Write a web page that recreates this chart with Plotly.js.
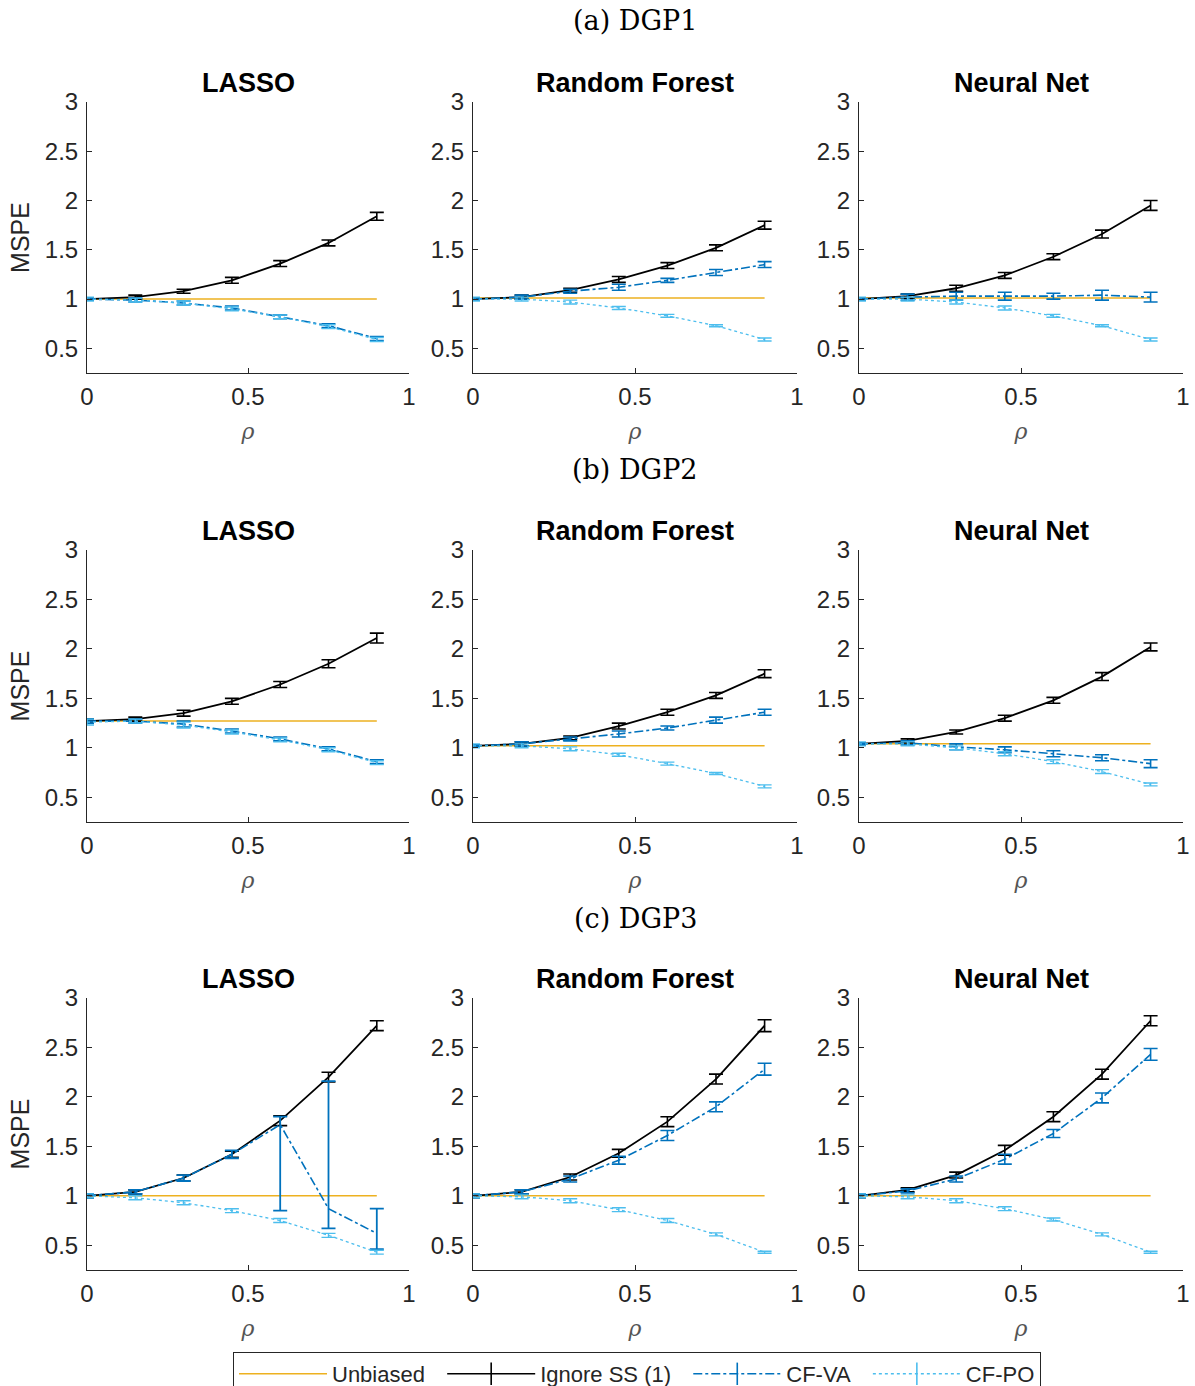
<!DOCTYPE html>
<html>
<head>
<meta charset="utf-8">
<script src="https://cdn.plot.ly/plotly-3.0.1.min.js"></script>
<style>html,body{margin:0;padding:0;background:#fff;width:1195px;height:1386px;overflow:hidden;}#chart{width:1195px;height:1410px;}</style>
</head>
<body>
<div id="chart"></div>
<script>
// ---------- DATA ----------
const rho = [0, 0.15, 0.3, 0.45, 0.6, 0.75, 0.9];
const seriesNames = ['Unbiased', 'Ignore SS (1)', 'CF-VA', 'CF-PO'];
const methodNames = ['LASSO', 'Random Forest', 'Neural Net'];
const dgpTitles = ['(a) DGP1', '(b) DGP2', '(c) DGP3'];
const yTickVals = [0.5, 1, 1.5, 2, 2.5, 3];
const yTickText = ['0.5', '1', '1.5', '2', '2.5', '3'];
const xTickVals = [0, 0.5, 1];
const xTickText = ['0', '0.5', '1'];

// DGP1 - LASSO
const d1LassoUnb = [1.00, 1.00, 1.00, 1.00, 1.00, 1.00, 1.00];
const d1LassoIgn = [1.00, 1.02, 1.08, 1.19, 1.36, 1.57, 1.84];
const d1LassoIgnErr = [0.01, 0.02, 0.02, 0.03, 0.03, 0.03, 0.04];
const d1LassoVA = [1.00, 0.99, 0.96, 0.91, 0.82, 0.73, 0.60];
const d1LassoVAErr = [0.01, 0.02, 0.02, 0.02, 0.02, 0.02, 0.02];
const d1LassoPO = [1.00, 0.99, 0.96, 0.90, 0.82, 0.72, 0.59];
const d1LassoPOErr = [0.02, 0.02, 0.02, 0.02, 0.02, 0.02, 0.02];
// DGP1 - Random Forest
const d1RFUnb = [1.01, 1.01, 1.01, 1.01, 1.01, 1.01, 1.01];
const d1RFIgn = [1.00, 1.02, 1.09, 1.20, 1.34, 1.52, 1.75];
const d1RFIgnErr = [0.01, 0.02, 0.02, 0.03, 0.03, 0.03, 0.04];
const d1RFVA = [1.00, 1.02, 1.08, 1.12, 1.19, 1.27, 1.35];
const d1RFVAErr = [0.01, 0.02, 0.02, 0.03, 0.02, 0.03, 0.03];
const d1RFPO = [1.00, 1.00, 0.97, 0.91, 0.83, 0.73, 0.59];
const d1RFPOErr = [0.02, 0.02, 0.02, 0.015, 0.015, 0.01, 0.015];
// DGP1 - Neural Net
const d1NNUnb = [1.01, 1.01, 1.01, 1.01, 1.01, 1.01, 1.01];
const d1NNIgn = [1.00, 1.03, 1.11, 1.24, 1.43, 1.66, 1.95];
const d1NNIgnErr = [0.01, 0.02, 0.03, 0.03, 0.03, 0.04, 0.05];
const d1NNVA = [1.00, 1.02, 1.03, 1.03, 1.03, 1.04, 1.02];
const d1NNVAErr = [0.01, 0.03, 0.04, 0.04, 0.03, 0.05, 0.05];
const d1NNPO = [1.00, 1.00, 0.97, 0.91, 0.83, 0.73, 0.59];
const d1NNPOErr = [0.02, 0.02, 0.02, 0.02, 0.015, 0.01, 0.015];

// DGP2 - LASSO
const d2LassoUnb = [1.27, 1.27, 1.27, 1.27, 1.27, 1.27, 1.27];
const d2LassoIgn = [1.27, 1.29, 1.35, 1.47, 1.64, 1.85, 2.11];
const d2LassoIgnErr = [0.02, 0.02, 0.03, 0.03, 0.03, 0.04, 0.05];
const d2LassoVA = [1.27, 1.27, 1.24, 1.17, 1.09, 0.99, 0.86];
const d2LassoVAErr = [0.02, 0.02, 0.03, 0.02, 0.02, 0.02, 0.02];
const d2LassoPO = [1.26, 1.27, 1.23, 1.16, 1.08, 0.98, 0.85];
const d2LassoPOErr = [0.03, 0.02, 0.03, 0.02, 0.02, 0.02, 0.02];
// DGP2 - Random Forest
const d2RFUnb = [1.02, 1.02, 1.02, 1.02, 1.02, 1.02, 1.02];
const d2RFIgn = [1.02, 1.04, 1.10, 1.22, 1.36, 1.53, 1.75];
const d2RFIgnErr = [0.01, 0.02, 0.02, 0.03, 0.03, 0.03, 0.04];
const d2RFVA = [1.02, 1.04, 1.09, 1.14, 1.20, 1.28, 1.36];
const d2RFVAErr = [0.01, 0.02, 0.02, 0.03, 0.02, 0.03, 0.03];
const d2RFPO = [1.02, 1.02, 0.99, 0.93, 0.84, 0.74, 0.61];
const d2RFPOErr = [0.02, 0.02, 0.02, 0.015, 0.015, 0.01, 0.015];
// DGP2 - Neural Net
const d2NNUnb = [1.04, 1.04, 1.04, 1.04, 1.04, 1.04, 1.04];
const d2NNIgn = [1.04, 1.07, 1.16, 1.30, 1.48, 1.72, 2.02];
const d2NNIgnErr = [0.01, 0.02, 0.02, 0.03, 0.03, 0.04, 0.04];
const d2NNVA = [1.04, 1.05, 1.01, 0.98, 0.94, 0.90, 0.84];
const d2NNVAErr = [0.01, 0.02, 0.03, 0.03, 0.03, 0.03, 0.04];
const d2NNPO = [1.04, 1.04, 1.00, 0.94, 0.86, 0.76, 0.63];
const d2NNPOErr = [0.02, 0.02, 0.02, 0.02, 0.02, 0.02, 0.015];

// DGP3 - LASSO
const d3LassoUnb = [1.00, 1.00, 1.00, 1.00, 1.00, 1.00, 1.00];
const d3LassoIgn = [1.00, 1.04, 1.18, 1.42, 1.76, 2.20, 2.72];
const d3LassoIgnErr = [0.02, 0.02, 0.03, 0.03, 0.05, 0.05, 0.05];
const d3LassoVA = [1.00, 1.04, 1.18, 1.42, 1.72, 0.87, 0.62];
const d3LassoVAErrPlus = [0.02, 0.02, 0.03, 0.04, 0.08, 1.29, 0.25];
const d3LassoVAErrMinus = [0.02, 0.02, 0.03, 0.04, 0.87, 0.20, 0.16];
const d3LassoPO = [1.00, 0.98, 0.93, 0.85, 0.75, 0.60, 0.43];
const d3LassoPOErr = [0.02, 0.02, 0.02, 0.02, 0.02, 0.02, 0.02];
// DGP3 - Random Forest
const d3RFUnb = [1.00, 1.00, 1.00, 1.00, 1.00, 1.00, 1.00];
const d3RFIgn = [1.00, 1.04, 1.19, 1.43, 1.75, 2.18, 2.72];
const d3RFIgnErr = [0.02, 0.02, 0.03, 0.04, 0.05, 0.05, 0.06];
const d3RFVA = [1.00, 1.04, 1.17, 1.36, 1.61, 1.90, 2.28];
const d3RFVAErr = [0.02, 0.02, 0.03, 0.04, 0.05, 0.05, 0.06];
const d3RFPO = [1.00, 0.99, 0.95, 0.86, 0.75, 0.61, 0.43];
const d3RFPOErr = [0.02, 0.02, 0.02, 0.02, 0.02, 0.015, 0.01];
// DGP3 - Neural Net
const d3NNUnb = [1.00, 1.00, 1.00, 1.00, 1.00, 1.00, 1.00];
const d3NNIgn = [1.00, 1.06, 1.21, 1.46, 1.80, 2.23, 2.77];
const d3NNIgnErr = [0.02, 0.02, 0.03, 0.05, 0.05, 0.05, 0.05];
const d3NNVA = [1.00, 1.05, 1.17, 1.37, 1.63, 1.99, 2.43];
const d3NNVAErr = [0.02, 0.02, 0.03, 0.05, 0.04, 0.05, 0.06];
const d3NNPO = [1.00, 0.99, 0.95, 0.87, 0.76, 0.61, 0.43];
const d3NNPOErr = [0.02, 0.02, 0.02, 0.02, 0.015, 0.015, 0.01];

// ---------- PANELS ----------
const panels = [
  {unb: d1LassoUnb, ign: d1LassoIgn, ignE: d1LassoIgnErr, va: d1LassoVA, vaE: d1LassoVAErr, po: d1LassoPO, poE: d1LassoPOErr},
  {unb: d1RFUnb, ign: d1RFIgn, ignE: d1RFIgnErr, va: d1RFVA, vaE: d1RFVAErr, po: d1RFPO, poE: d1RFPOErr},
  {unb: d1NNUnb, ign: d1NNIgn, ignE: d1NNIgnErr, va: d1NNVA, vaE: d1NNVAErr, po: d1NNPO, poE: d1NNPOErr},
  {unb: d2LassoUnb, ign: d2LassoIgn, ignE: d2LassoIgnErr, va: d2LassoVA, vaE: d2LassoVAErr, po: d2LassoPO, poE: d2LassoPOErr},
  {unb: d2RFUnb, ign: d2RFIgn, ignE: d2RFIgnErr, va: d2RFVA, vaE: d2RFVAErr, po: d2RFPO, poE: d2RFPOErr},
  {unb: d2NNUnb, ign: d2NNIgn, ignE: d2NNIgnErr, va: d2NNVA, vaE: d2NNVAErr, po: d2NNPO, poE: d2NNPOErr},
  {unb: d3LassoUnb, ign: d3LassoIgn, ignE: d3LassoIgnErr, va: d3LassoVA, vaE: d3LassoVAErrPlus, vaEm: d3LassoVAErrMinus, po: d3LassoPO, poE: d3LassoPOErr},
  {unb: d3RFUnb, ign: d3RFIgn, ignE: d3RFIgnErr, va: d3RFVA, vaE: d3RFVAErr, po: d3RFPO, poE: d3RFPOErr},
  {unb: d3NNUnb, ign: d3NNIgn, ignE: d3NNIgnErr, va: d3NNVA, vaE: d3NNVAErr, po: d3NNPO, poE: d3NNPOErr}
];

// ---------- STYLE / LAYOUT ----------
const W = 1195, H = 1410;   // layout taller than the window; the window crops the legend like the original
const cUnb = '#EDB120', cIgn = '#000000', cVA = '#0072BD', cPO = '#4DBEEE';
const axisColor = '#262626';
const sans = 'Liberation Sans, Arial, sans-serif';
const colPx = [[87, 409], [473, 797], [859, 1183]];
const rowPx = [[102, 373], [550, 822], [998, 1270]];
const sectionY = [20, 470, 918];

const data = [];
const layout = {
  width: W, height: H,
  margin: {l: 0, r: 0, t: 0, b: 0},
  paper_bgcolor: '#fff', plot_bgcolor: 'rgba(0,0,0,0)',
  font: {family: sans, color: axisColor},
  showlegend: true,
  legend: {
    orientation: 'h', x: 233 / W, y: 1 - 1352 / H, xanchor: 'left', yanchor: 'top',
    bordercolor: axisColor, borderwidth: 1, bgcolor: '#fff',
    font: {family: sans, size: 22, color: axisColor},
    itemwidth: 88, tracegroupgap: 0
  },
  annotations: [], shapes: []
};

panels.forEach((p, i) => {
  const r = Math.floor(i / 3), c = i % 3;
  const k = i + 1;
  const xa = 'x' + (k === 1 ? '' : k), ya = 'y' + (k === 1 ? '' : k);
  const xKey = 'xaxis' + (k === 1 ? '' : k), yKey = 'yaxis' + (k === 1 ? '' : k);
  layout[xKey] = {
    domain: [colPx[c][0] / W, colPx[c][1] / W], anchor: ya,
    range: [0, 1], tickvals: xTickVals, ticktext: xTickText,
    ticks: 'inside', ticklen: 5, tickcolor: axisColor, tickwidth: 1,
    showline: true, linecolor: axisColor, linewidth: 1,
    showgrid: false, zeroline: false, fixedrange: true, ticklabelstandoff: 2,
    tickfont: {family: sans, size: 24, color: axisColor},
    title: {text: 'ρ', standoff: 14, font: {family: 'DejaVu Serif, serif', size: 22, color: '#555', style: 'italic'}}
  };
  layout[yKey] = {
    domain: [1 - rowPx[r][1] / H, 1 - rowPx[r][0] / H], anchor: xa,
    range: [0.25, 3], tickvals: yTickVals, ticktext: yTickText,
    ticks: 'inside', ticklen: 5, tickcolor: axisColor, tickwidth: 1,
    showline: true, linecolor: axisColor, linewidth: 1,
    showgrid: false, zeroline: false, fixedrange: true, ticklabelstandoff: 3,
    tickfont: {family: sans, size: 24, color: axisColor},
    title: c === 0 ? {text: 'MSPE', standoff: 8, font: {family: sans, size: 25, color: axisColor}} : {text: ''}
  };
  layout.annotations.push({
    xref: 'paper', yref: 'paper', x: (colPx[c][0] + colPx[c][1]) / 2 / W, y: 1 - (rowPx[r][0] - 19) / H,
    xanchor: 'center', yanchor: 'middle', showarrow: false,
    text: '<b>' + methodNames[c] + '</b>', font: {family: sans, size: 27, color: '#000'}
  });

  data.push({
    x: rho, y: p.unb, xaxis: xa, yaxis: ya, mode: 'lines', name: seriesNames[0], showlegend: false,
    line: {color: cUnb, width: 1.5}, hoverinfo: 'skip'
  });
  data.push({
    x: rho, y: p.ign, xaxis: xa, yaxis: ya, mode: 'lines', name: seriesNames[1], showlegend: false,
    line: {color: cIgn, width: 1.8},
    error_y: {type: 'data', array: p.ignE, visible: true, color: cIgn, thickness: 1.6, width: 7}
  });
  const vaErr = p.vaEm
    ? {type: 'data', symmetric: false, array: p.vaE, arrayminus: p.vaEm, visible: true, color: cVA, thickness: 1.8, width: 7}
    : {type: 'data', array: p.vaE, visible: true, color: cVA, thickness: 1.6, width: 7};
  data.push({
    x: rho, y: p.va, xaxis: xa, yaxis: ya, mode: 'lines', name: seriesNames[2], showlegend: false,
    line: {color: cVA, width: 1.6, dash: 'dashdot'}, error_y: vaErr
  });
  data.push({
    x: rho, y: p.po, xaxis: xa, yaxis: ya, mode: 'lines', name: seriesNames[3], showlegend: false,
    line: {color: cPO, width: 1.3, dash: 'dot'},
    error_y: {type: 'data', array: p.poE, visible: true, color: cPO, thickness: 1.4, width: 7}
  });
});

// Legend entries (non-breaking spaces only widen the gap between entries)
const legendStyles = [
  {color: cUnb, dash: 'solid', marker: false, pad: '\u00a0\u00a0'},
  {color: cIgn, dash: 'solid', marker: true, pad: '\u00a0\u00a0'},
  {color: cVA, dash: 'dashdot', marker: true, pad: '\u00a0\u00a0'},
  {color: cPO, dash: 'dot', marker: true, pad: ''}
];
seriesNames.forEach((n, j) => {
  const s = legendStyles[j];
  data.push({
    x: [null], y: [null], xaxis: 'x', yaxis: 'y', name: n + s.pad, showlegend: true,
    mode: s.marker ? 'lines+markers' : 'lines',
    line: {color: s.color, width: 1.6, dash: s.dash},
    marker: {symbol: 'line-ns-open', size: 18, color: s.color, line: {color: s.color, width: 1.6}}
  });
});

dgpTitles.forEach((t, r) => {
  layout.annotations.push({
    xref: 'paper', yref: 'paper', x: 635 / W, y: 1 - sectionY[r] / H,
    xanchor: 'center', yanchor: 'middle', showarrow: false,
    text: t, font: {family: 'DejaVu Serif, serif', size: 27, color: '#000'}
  });
});

Plotly.newPlot('chart', data, layout, {staticPlot: true, displayModeBar: false});
</script>
</body>
</html>
